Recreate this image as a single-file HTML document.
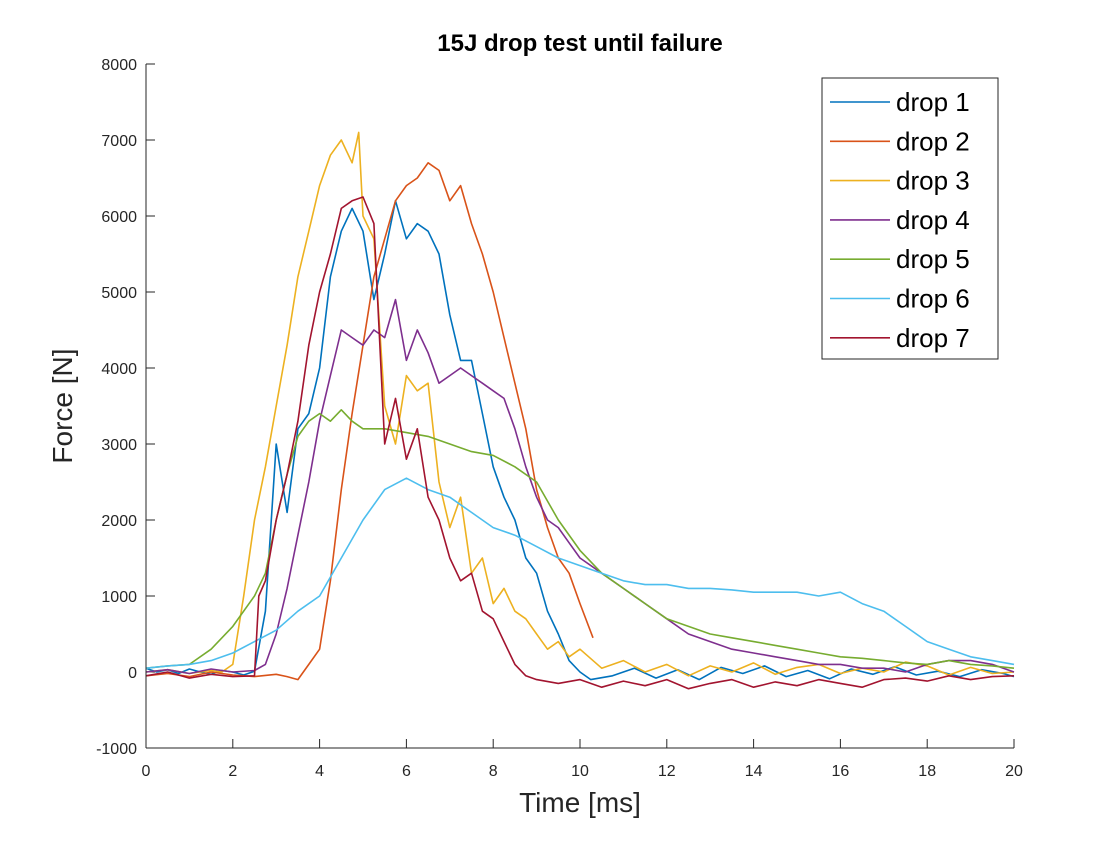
<!DOCTYPE html>
<html><head><meta charset="utf-8"><style>
body{margin:0;background:#fff;font-family:"Liberation Sans",sans-serif}
svg text{font-family:"Liberation Sans",sans-serif}
</style></head><body>
<svg id="chart" width="1120" height="840" xmlns="http://www.w3.org/2000/svg">
<rect width="1120" height="840" fill="#fff"/>
<text x="580" y="51" text-anchor="middle" font-size="24" font-weight="bold" fill="#000">15J drop test until failure</text>
<rect x="146" y="64" width="868" height="684" fill="#fff" stroke="none"/>
<g id="ticks"></g>
<g id="series"></g>
<line x1="146" y1="64" x2="146" y2="748" stroke="#262626" stroke-width="1"/>
<line x1="146" y1="748" x2="1014" y2="748" stroke="#262626" stroke-width="1"/>
<text x="580" y="812" text-anchor="middle" font-size="28" fill="#262626">Time [ms]</text>
<text x="72" y="406" text-anchor="middle" font-size="28" fill="#262626" transform="rotate(-90 72 406)">Force [N]</text>
<g id="legend"></g>
</svg>
<script>
const xTicks=[0,2,4,6,8,10,12,14,16,18,20];
const yTicks=[-1000,0,1000,2000,3000,4000,5000,6000,7000,8000];
const seriesNames=["drop 1","drop 2","drop 3","drop 4","drop 5","drop 6","drop 7"];
const colors=["#0072BD","#D95319","#EDB120","#7E2F8E","#77AC30","#4DBEEE","#A2142F"];
const t1=[0,0.25,0.5,0.75,1,1.25,1.5,1.75,2,2.25,2.5,2.75,3,3.25,3.5,3.75,4,4.25,4.5,4.75,5,5.25,5.5,5.75,6,6.25,6.5,6.75,7,7.25,7.5,7.75,8,8.25,8.5,8.75,9,9.25,9.5,9.75,10,10.25,10.75,11.25,11.75,12.25,12.75,13.25,13.75,14.25,14.75,15.25,15.75,16.25,16.75,17.25,17.75,18.25,18.75,19.25,19.75,20];
const v1=[50,0,30,-20,40,0,-30,20,0,-40,10,800,3000,2100,3200,3400,4000,5200,5800,6100,5800,4900,5500,6200,5700,5900,5800,5500,4700,4100,4100,3400,2700,2300,2000,1500,1300,800,500,150,0,-100,-50,50,-80,30,-100,60,-20,80,-60,20,-90,40,-30,70,-40,10,-60,30,-20,-60];
const t2=[0,0.5,1,1.5,2,2.5,3,3.25,3.5,3.75,4,4.25,4.5,4.75,5,5.25,5.5,5.75,6,6.25,6.5,6.75,7,7.25,7.5,7.75,8,8.25,8.5,8.75,9,9.25,9.5,9.75,10,10.3];
const v2=[-50,-20,-60,0,-40,-60,-30,-60,-100,100,300,1200,2400,3400,4300,5200,5700,6200,6400,6500,6700,6600,6200,6400,5900,5500,5000,4400,3800,3200,2400,1900,1500,1300,900,450];
const t3=[0,0.5,1,1.5,1.75,2,2.25,2.5,2.75,3,3.25,3.5,3.75,4,4.25,4.5,4.75,4.9,5,5.25,5.5,5.75,6,6.25,6.5,6.75,7,7.25,7.5,7.75,8,8.25,8.5,8.75,9,9.25,9.5,9.75,10,10.5,11,11.5,12,12.5,13,13.5,14,14.5,15,15.5,16,16.5,17,17.5,18,18.5,19,19.5,20];
const v3=[0,30,-20,20,0,100,1000,2000,2700,3500,4300,5200,5800,6400,6800,7000,6700,7100,6000,5700,3500,3000,3900,3700,3800,2500,1900,2300,1300,1500,900,1100,800,700,500,300,400,200,300,50,150,0,100,-50,80,0,120,-30,60,100,-20,50,0,130,80,-40,60,-20,0];
const t4=[0,0.5,1,1.5,2,2.5,2.75,3,3.25,3.5,3.75,4,4.25,4.5,4.75,5,5.25,5.5,5.75,6,6.25,6.5,6.75,7,7.25,7.5,7.75,8,8.25,8.5,8.75,9,9.25,9.5,9.75,10,10.5,11,11.5,12,12.5,13,13.5,14,14.5,15,15.5,16,16.5,17,17.5,18,18.5,19,19.5,20];
const v4=[0,30,-20,40,0,20,100,500,1100,1800,2500,3300,3900,4500,4400,4300,4500,4400,4900,4100,4500,4200,3800,3900,4000,3900,3800,3700,3600,3200,2700,2300,2000,1900,1700,1500,1300,1100,900,700,500,400,300,250,200,150,100,100,50,50,0,100,150,150,100,0];
const t5=[0,0.5,1,1.5,2,2.5,2.75,3,3.25,3.5,3.75,4,4.25,4.5,4.75,5,5.5,6,6.5,7,7.5,8,8.5,9,9.5,10,10.5,11,11.5,12,12.5,13,13.5,14,14.5,15,15.5,16,16.5,17,17.5,18,18.5,19,19.5,20];
const v5=[50,80,100,300,600,1000,1300,2000,2600,3100,3300,3400,3300,3450,3300,3200,3200,3150,3100,3000,2900,2850,2700,2500,2000,1600,1300,1100,900,700,600,500,450,400,350,300,250,200,180,150,120,100,150,100,80,50];
const t6=[0,0.5,1,1.5,2,2.5,3,3.5,4,4.5,5,5.5,6,6.5,7,7.5,8,8.5,9,9.5,10,10.5,11,11.5,12,12.5,13,13.5,14,14.5,15,15.5,16,16.5,17,17.5,18,18.5,19,19.5,20];
const v6=[50,80,100,150,250,400,550,800,1000,1500,2000,2400,2550,2400,2300,2100,1900,1800,1650,1500,1400,1300,1200,1150,1150,1100,1100,1080,1050,1050,1050,1000,1050,900,800,600,400,300,200,150,100];
const t7=[0,0.5,1,1.5,2,2.5,2.6,2.75,3,3.25,3.5,3.75,4,4.25,4.5,4.75,5,5.25,5.5,5.75,6,6.25,6.5,6.75,7,7.25,7.5,7.75,8,8.25,8.5,8.75,9,9.5,10,10.5,11,11.5,12,12.5,13,13.5,14,14.5,15,15.5,16,16.5,17,17.5,18,18.5,19,19.5,20];
const v7=[-50,0,-80,-30,-60,-50,1000,1200,2000,2600,3300,4300,5000,5500,6100,6200,6250,5900,3000,3600,2800,3200,2300,2000,1500,1200,1300,800,700,400,100,-50,-100,-150,-100,-200,-120,-180,-100,-220,-150,-100,-200,-130,-180,-100,-150,-200,-100,-80,-120,-50,-100,-60,-50];
const seriesT=[t1,t2,t3,t4,t5,t6,t7];
const seriesV=[v1,v2,v3,v4,v5,v6,v7];

const X0=146,X1=1014,Y0=748,Y1=64;
const xs=t=>X0+(t-0)/(20-0)*(X1-X0);
const ys=v=>Y0-(v+1000)/(9000)*(Y0-Y1);
const NS="http://www.w3.org/2000/svg";
const tg=document.getElementById('ticks');
xTicks.forEach(t=>{
  const l=document.createElementNS(NS,'line');
  l.setAttribute('x1',xs(t));l.setAttribute('x2',xs(t));l.setAttribute('y1',748);l.setAttribute('y2',739);
  l.setAttribute('stroke','#262626');
  
  
  tg.appendChild(l);
  const tx=document.createElementNS(NS,'text');
  tx.setAttribute('x',xs(t));tx.setAttribute('y',776);tx.setAttribute('text-anchor','middle');tx.setAttribute('font-size','16');tx.setAttribute('fill','#262626');
  tx.textContent=t;
  
  
  tg.appendChild(tx);
});
yTicks.forEach(v=>{
  const l=document.createElementNS(NS,'line');
  l.setAttribute('x1',146);l.setAttribute('x2',155);l.setAttribute('y1',ys(v));l.setAttribute('y2',ys(v));
  l.setAttribute('stroke','#262626');
  
  
  tg.appendChild(l);
  const tx=document.createElementNS(NS,'text');
  tx.setAttribute('x',137);tx.setAttribute('y',ys(v)+6);tx.setAttribute('text-anchor','end');tx.setAttribute('font-size','16');tx.setAttribute('fill','#262626');
  tx.textContent=v;
  
  
  tg.appendChild(tx);
});
const sg=document.getElementById('series');
seriesT.forEach((T,i)=>{
  const V=seriesV[i];
  const p=document.createElementNS(NS,'polyline');
  p.setAttribute('points',T.map((t,j)=>xs(t).toFixed(1)+','+ys(V[j]).toFixed(1)).join(' '));
  p.setAttribute('fill','none');p.setAttribute('stroke',colors[i]);p.setAttribute('stroke-width','1.6');p.setAttribute('stroke-linejoin','round');
  
  
  sg.appendChild(p);
});
const lg=document.getElementById('legend');
const box=document.createElementNS(NS,'rect');
box.setAttribute('x',822);box.setAttribute('y',78);box.setAttribute('width',176);box.setAttribute('height',281);
box.setAttribute('fill','#fff');box.setAttribute('stroke','#262626');


lg.appendChild(box);
seriesNames.forEach((n,i)=>{
  const y=102+i*39.3;
  const l=document.createElementNS(NS,'line');
  l.setAttribute('x1',830);l.setAttribute('x2',890);l.setAttribute('y1',y);l.setAttribute('y2',y);
  l.setAttribute('stroke',colors[i]);l.setAttribute('stroke-width','1.6');
  
  
  lg.appendChild(l);
  const tx=document.createElementNS(NS,'text');
  tx.setAttribute('x',896);tx.setAttribute('y',y+9);tx.setAttribute('font-size','26');tx.setAttribute('fill','#000');
  tx.textContent=n;
  
  
  lg.appendChild(tx);
});
</script>
</body></html>
